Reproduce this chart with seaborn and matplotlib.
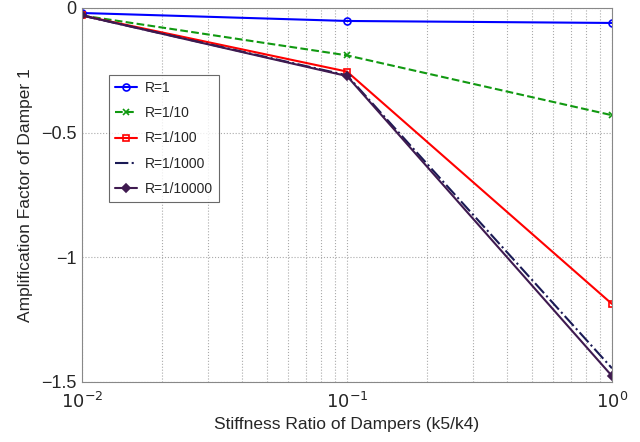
import matplotlib
matplotlib.use("Agg")
import matplotlib.pyplot as plt
import seaborn as sns
import pandas as pd
import numpy as np

sns.set_style("white")
plt.rcParams['font.family'] = ['Liberation Sans', 'DejaVu Sans']

stiffness = [0.01, 0.1, 1.0]
r1 = [-0.02, -0.052, -0.06]
r10 = [-0.03, -0.19, -0.43]
r100 = [-0.03, -0.255, -1.187]
r1000 = [-0.03, -0.27, -1.445]
r10000 = [-0.03, -0.273, -1.476]
labels = ["R=1", "R=1/10", "R=1/100", "R=1/1000", "R=1/10000"]
series = [r1, r10, r100, r1000, r10000]

rows = []
for lab, vals in zip(labels, series):
    for x, y in zip(stiffness, vals):
        rows.append({"k": x, "A": y, "R": lab})
df = pd.DataFrame(rows)

styles = {
    "R=1": dict(color="#0000ff", ls="-", marker="o", mfc="none", ms=5),
    "R=1/10": dict(color="#119911", ls="--", marker="x", mfc="none", ms=4),
    "R=1/100": dict(color="#ff0000", ls="-", marker="s", mfc="none", ms=5),
    "R=1/1000": dict(color="#1a1a55", ls="-.", marker=None, ms=0),
    "R=1/10000": dict(color="#3f1a50", ls="-", marker="D", mfc="#3f1a50", ms=4),
}

fig = plt.figure(figsize=(6.4, 4.42), dpi=100)
ax = fig.add_axes([82/640, 1-382/442, (612-82)/640, (382-8)/442])
for lab in labels:
    st = styles[lab]
    sub = df[df["R"] == lab]
    sns.lineplot(data=sub, x="k", y="A", ax=ax, color=st["color"], linestyle=st["ls"],
                 marker=st["marker"], markersize=st["ms"], markerfacecolor=st.get("mfc", st["color"]),
                 markeredgecolor=st["color"], markeredgewidth=1.2, linewidth=1.5, label=lab)
ax.set_xscale("log")
ax.set_xlim(0.01, 1)
ax.set_ylim(-1.5, 0)
ax.set_yticks([0, -0.5, -1, -1.5])
ax.set_yticklabels(["0", "\u22120.5", "\u22121", "\u22121.5"])
ax.set_xticks([0.01, 0.1, 1])
ax.set_xticklabels([r"$10^{-2}$", r"$10^{-1}$", r"$10^{0}$"])
ax.grid(True, which="major", axis="both", linestyle=":", color="#aaaaaa", linewidth=0.8)
ax.grid(True, which="minor", axis="x", linestyle=":", color="#aaaaaa", linewidth=0.8)
ax.tick_params(axis="both", which="major", labelsize=13, direction="in", length=4)
ax.tick_params(axis="x", which="major", pad=7)
ax.tick_params(axis="y", which="major", pad=4)
ax.tick_params(axis="x", which="minor", direction="in", length=2)
for s in ax.spines.values():
    s.set_color("#888888")
    s.set_linewidth(0.8)
ax.set_xlabel("Stiffness Ratio of Dampers (k5/k4)", fontsize=12.5, labelpad=4)
ax.set_ylabel("Amplification Factor of Damper 1", fontsize=12.5, labelpad=6)
leg = ax.legend(loc="upper left", bbox_to_anchor=((109-82)/530, (382-75)/374), fontsize=10,
                frameon=True, fancybox=False, edgecolor="#444444", handlelength=1.6, borderpad=0.45,
                labelspacing=0.8, handletextpad=0.5, borderaxespad=0)
leg.get_frame().set_linewidth(0.8)
fig.savefig("out.png", dpi=100)
